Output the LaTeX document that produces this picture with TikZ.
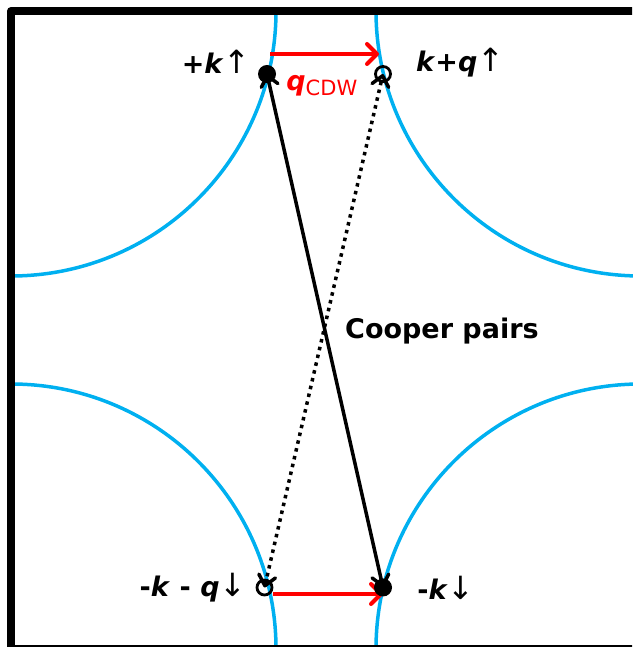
\documentclass[tikz,border=0pt]{standalone}
\usepackage{fontspec}
\setmainfont{DejaVu Sans}
\usepackage{tikz}
\usetikzlibrary{arrows.meta, positioning, backgrounds, calc}
\definecolor{fermiblue}{HTML}{00B0F0}
\definecolor{cdwred}{HTML}{FF0000}
\tikzset{
  frame/.style={line width=8pt, line join=round},
  fermi/.style={line width=3.5pt, draw=fermiblue},
  dot/.style={circle, fill=black, minimum size=18pt, inner sep=0pt},
  hole/.style={circle, draw=black, line width=2.8pt, minimum size=15pt, inner sep=0pt},
  qvec/.style={-{Straight Barb[length=10pt, width=20pt, round]}, line width=4pt, draw=cdwred},
  pair/.style={<->, >={Straight Barb[length=10pt, width=17pt, round]}, line width=3.5pt},
  pairdot/.style={pair, dash pattern=on 3.5pt off 4.5pt},
  lbl/.style={font=\fontsize{27}{32}\selectfont\bfseries, inner sep=0pt},
  qlbl/.style={lbl, text=cdwred},
}
\newcommand{\kv}{\textit{k}}
\newcommand{\qv}{\textit{q}}
\newcommand{\upar}{{\mdseries\fontsize{32}{32}\selectfont ↑}}
\newcommand{\dnar}{{\mdseries\fontsize{32}{32}\selectfont ↓}}
\begin{document}
\begin{tikzpicture}[x=1pt, y=1pt]
  \useasboundingbox (0,0) rectangle (632,647);
  \clip (0,0) rectangle (632,647);
  \draw[frame] (11,-2) rectangle (641,636);
  % electron states on the Fermi surface
  \node[dot]  (kup)  at (267,573)    {};
  \node[hole] (kqup) at (383,573)    {};
  \node[hole] (mkq)  at (264.5,59.5) {};
  \node[dot]  (mk)   at (383,59.5)   {};
  \coordinate (cross) at ($(kup)!0.5!(mk)$);
  % labels
  \node[lbl, left=7pt of kup, yshift=12pt] (lkup) {+\kv\upar};
  \node[lbl, right=24pt of kqup, yshift=11pt] (lkqup) {\kv+\qv\upar};
  \node[lbl, left=9pt of mkq] (lmkq) {-\kv{} - \qv\dnar};
  \node[lbl, right=25pt of mk] (lmk) {-\kv\dnar};
  \node[qlbl, right=10pt of kup, yshift=-12pt] (lq)
    {\qv\raisebox{-5pt}{\mdseries\fontsize{21}{21}\selectfont CDW}};
  \node[lbl, right=20pt of cross] (lpair) {Cooper pairs};
  \begin{scope}[on background layer]
    \clip (11,-2) rectangle (641,636);
    \foreach \cx/\cy in {11/636, 641/636, 11/-2, 641/-2}
      \draw[fermi] (\cx,\cy) circle[radius=265];
    \draw[qvec] ([xshift=3pt, yshift=20pt]kup.center) -- ([xshift=-4pt, yshift=20pt]kqup.center);
    \draw[qvec] ([yshift=-6.5pt]mkq.east) -- ([yshift=-6.5pt]mk.center);
    \draw[pair] (mk.center) -- (kup.center);
    \draw[pairdot] (mkq.center) -- (kqup.center);
  \end{scope}
\end{tikzpicture}
\end{document}
